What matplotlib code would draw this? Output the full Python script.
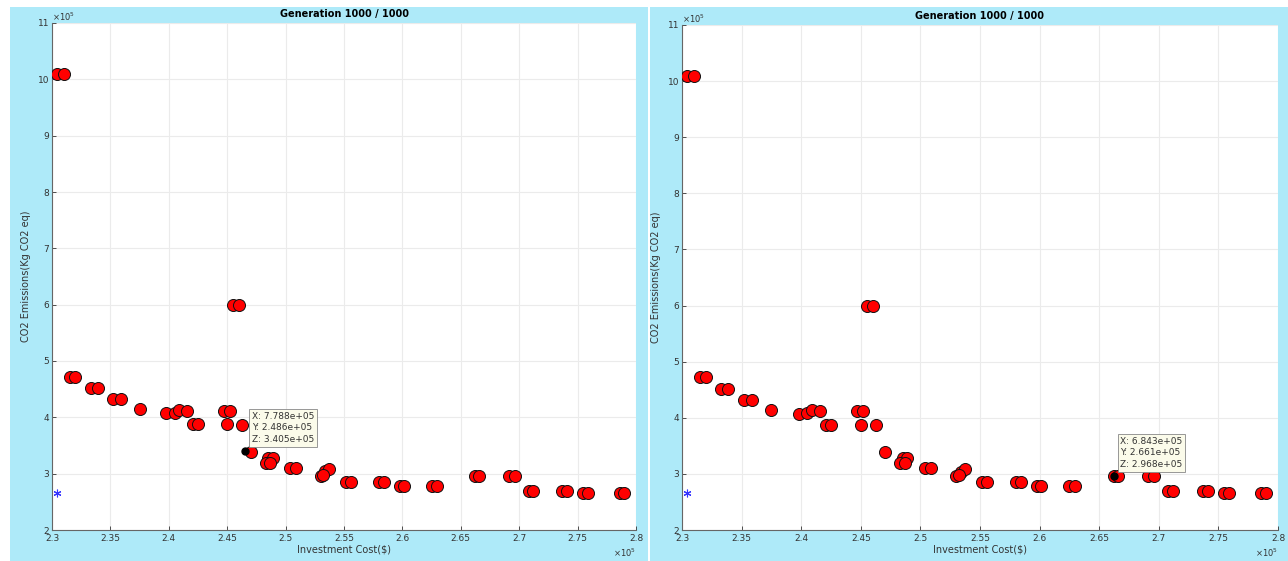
import numpy as np
import matplotlib.pyplot as plt
from matplotlib.patches import Rectangle

# investment cost (x1e5 $) and CO2 emissions (x1e5 kg CO2 eq) of the front
cost = [2.304, 2.310, 2.315, 2.320, 2.333, 2.339, 2.352, 2.359, 2.375,
        2.398, 2.405, 2.409, 2.416, 2.421, 2.425, 2.447, 2.452, 2.450,
        2.455, 2.460, 2.463, 2.470, 2.485, 2.489, 2.483, 2.487, 2.504,
        2.509, 2.530, 2.534, 2.537, 2.532, 2.552, 2.556, 2.580, 2.584,
        2.598, 2.601, 2.625, 2.630, 2.662, 2.666, 2.691, 2.696, 2.708,
        2.712, 2.737, 2.741, 2.755, 2.759, 2.786, 2.790]
co2 = [10.1, 10.1, 4.72, 4.72, 4.52, 4.52, 4.32, 4.32, 4.14,
       4.07, 4.08, 4.13, 4.12, 3.88, 3.88, 4.12, 4.12, 3.88,
       6.0, 6.0, 3.87, 3.39, 3.28, 3.28, 3.19, 3.19, 3.10,
       3.10, 2.96, 3.04, 3.08, 2.98, 2.85, 2.85, 2.85, 2.85,
       2.78, 2.78, 2.78, 2.78, 2.96, 2.96, 2.96, 2.96, 2.70,
       2.70, 2.70, 2.70, 2.66, 2.66, 2.66, 2.66]

ideal = (2.304, 2.66)

# selected data tips: point, text
tips = [((2.465, 3.40), ["X: 7.788e+05", "Y: 2.486e+05", "Z: 3.405e+05"]),
        ((2.662, 2.96), ["X: 6.843e+05", "Y: 2.661e+05", "Z: 2.968e+05"])]

xticks = [2.3, 2.35, 2.4, 2.45, 2.5, 2.55, 2.6, 2.65, 2.7, 2.75, 2.8]
xticklabels = ['2.3', '2.35', '2.4', '2.45', '2.5', '2.55', '2.6', '2.65', '2.7', '2.75', '2.8']
yticks = list(range(2, 12))

W, H = 1288, 561
fig = plt.figure(figsize=(W / 100, H / 100), dpi=100)
fig.patch.set_facecolor('white')

bg = '#aeeaf9'
for x0, w in [(10, 638), (650, 638)]:
    fig.add_artist(Rectangle((x0 / W, 0), w / W, 554 / H, transform=fig.transFigure,
                             facecolor=bg, edgecolor='none', zorder=-10))

boxes = [[52 / W, 31 / H, 584 / W, 507 / H],
         [682 / W, 31 / H, 596 / W, 505 / H]]

for box, (tip_pt, tip_txt) in zip(boxes, tips):
    ax = fig.add_axes(box)
    ax.set_facecolor('white')
    ax.set_xlim(2.3, 2.8)
    ax.set_ylim(2, 11)
    ax.set_xticks(xticks)
    ax.set_xticklabels(xticklabels)
    ax.set_yticks(yticks)
    ax.grid(True, color='#ebebeb', linewidth=0.8)
    ax.set_axisbelow(True)
    for s in ['top', 'right']:
        ax.spines[s].set_visible(False)
    for s in ['left', 'bottom']:
        ax.spines[s].set_color('#666666')
        ax.spines[s].set_linewidth(0.8)
    ax.tick_params(labelsize=6.5, colors='#333333', length=3, width=0.6, direction='in')
    ax.tick_params(axis='x', pad=3)
    ax.tick_params(axis='y', pad=2)

    ax.scatter(cost, co2, s=75, c='#ff0000', edgecolors='#111111', linewidths=0.7, zorder=3)
    ax.plot(*ideal, marker=(6, 2, 0), color='#3333ff', markersize=5.5, markeredgewidth=0.8, zorder=3)
    ax.plot(*tip_pt, 'o', color='black', markersize=5, zorder=4)
    ax.annotate('\n'.join(tip_txt), xy=tip_pt, xytext=(5, 5), textcoords='offset points',
                fontsize=6.5, color='#333333', va='bottom', ha='left', linespacing=1.4,
                bbox=dict(boxstyle='square,pad=0.3', facecolor='#fbfbea', edgecolor='#888888', linewidth=0.6),
                zorder=5)

    ax.set_title('Generation 1000 / 1000', fontsize=7, fontweight='bold', pad=4)
    ax.set_xlabel('Investment Cost($)', fontsize=7, color='#333333', labelpad=1)
    ax.set_ylabel('CO2 Emissions(Kg CO2 eq)', fontsize=7, color='#333333', labelpad=5)
    ax.text(0.0, 1.0, r'$\times10^5$', transform=ax.transAxes, fontsize=6, color='#333333',
            ha='left', va='bottom')
    ax.text(1.0, -0.045, r'$\times10^5$', transform=ax.transAxes, fontsize=6, color='#333333',
            ha='right', va='center')

fig.savefig('out.png', dpi=100, facecolor=fig.get_facecolor())
